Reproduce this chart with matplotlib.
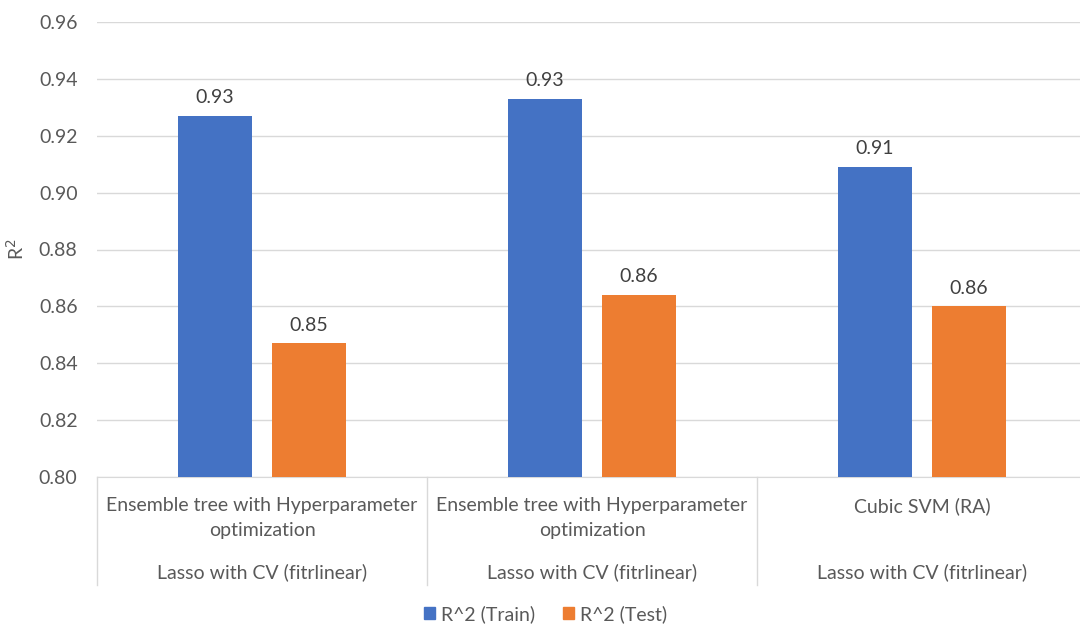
import matplotlib
matplotlib.use("Agg")
import matplotlib.pyplot as plt
import matplotlib.transforms as mtransforms
from matplotlib.patches import Patch

groups_top = ["Ensemble tree with Hyperparameter\noptimization",
              "Ensemble tree with Hyperparameter\noptimization",
              "Cubic SVM (RA)"]
groups_bottom = ["Lasso with CV (fitrlinear)"] * 3
train = [0.927, 0.933, 0.909]
test = [0.847, 0.864, 0.860]
series_names = ["R^2 (Train)", "R^2 (Test)"]
yticks = [0.80, 0.82, 0.84, 0.86, 0.88, 0.90, 0.92, 0.94, 0.96]

plt.rcParams['font.family'] = ['Lato', 'DejaVu Sans']
TXT = '#595959'
BLUE = '#4472C4'
ORANGE = '#ED7D31'
FS = 14

fig = plt.figure(figsize=(10.8, 6.25), dpi=100)
ax = fig.add_axes([97/1080, 1-477/625, 1-97/1080, 455/625])

x = list(range(len(train)))
w = 0.224
off = 0.1425
b1 = ax.bar([i - off for i in x], [v - 0.80 for v in train], w, bottom=0.80, color=BLUE, zorder=3)
b2 = ax.bar([i + off for i in x], [v - 0.80 for v in test], w, bottom=0.80, color=ORANGE, zorder=3)
for bars, vals in ((b1, train), (b2, test)):
    for r, v in zip(bars, vals):
        ax.annotate(f"{v:.2f}", (r.get_x() + r.get_width()/2, v), xytext=(0, 7),
                    textcoords='offset points', ha='center', va='bottom',
                    fontsize=FS, color='#404040')

ax.set_ylim(0.80, 0.96)
ax.set_xlim(-0.5, (1080-97)/330 - 0.5)
ax.set_yticks(yticks)
ax.set_yticklabels([f"{t:.2f}" for t in yticks], fontsize=FS, color=TXT)
ax.tick_params(axis='y', length=0, pad=14)
ax.tick_params(axis='x', length=0, labelbottom=False)
ax.grid(axis='y', color='#D9D9D9', linewidth=1, zorder=0)
for s in ('left', 'right', 'top'):
    ax.spines[s].set_visible(False)
ax.spines['bottom'].set_color('#D9D9D9')
ax.set_ylabel("R$^2$", fontsize=FS, color=TXT)
ax.yaxis.set_label_coords(-70/983, 0.5)

trans = mtransforms.blended_transform_factory(ax.transData, ax.transAxes)
for i in x:
    ax.text(i, -20/455, groups_top[i], transform=trans, ha='center', va='top',
            fontsize=FS, color=TXT, linespacing=1.55)
    ax.text(i, -95/455, groups_bottom[i], transform=trans, ha='center', va='center',
            fontsize=FS, color=TXT)
for xv in [-0.5, 0.5, 1.5, 2.5]:
    ax.plot([xv, xv], [0, -108/455], transform=trans, color='#D9D9D9', lw=1, clip_on=False)

handles = [Patch(color=BLUE), Patch(color=ORANGE)]
fig.legend(handles, series_names, loc='center', bbox_to_anchor=(0.505, 1-614/625),
           ncol=2, frameon=False, fontsize=FS, labelcolor=TXT,
           handlelength=0.6, handleheight=0.6, handletextpad=0.3, columnspacing=1.4)

fig.savefig("out.png", dpi=100)
